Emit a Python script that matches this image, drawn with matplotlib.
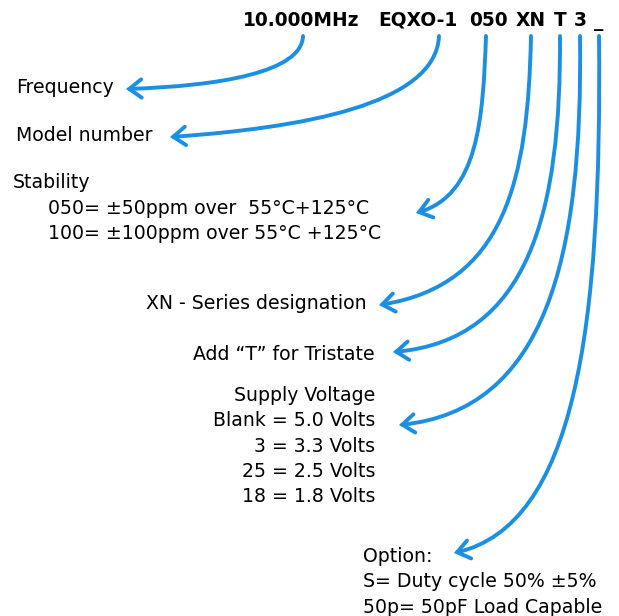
import matplotlib.pyplot as plt
from matplotlib.patches import FancyArrowPatch
from matplotlib.path import Path

plt.rcParams['font.family'] = ['DejaVu Sans']

# part number tokens at the top
code_tokens = ["10.000MHz", "EQXO-1", "050", "XN", "T", "3", "_"]
code_x = [301, 418, 488, 531, 560, 580, 599]

# descriptive text blocks
freq_lines = ["Frequency"]
model_lines = ["Model number"]
stab_title = ["Stability"]
stab_lines = ["050= \u00b150ppm over  55\u00b0C+125\u00b0C",
              "100= \u00b1100ppm over 55\u00b0C +125\u00b0C"]
series_lines = ["XN - Series designation"]
tristate_lines = ["Add \u201cT\u201d for Tristate"]
supply_lines = ["Supply Voltage", "Blank = 5.0 Volts", "3 = 3.3 Volts",
                "25 = 2.5 Volts", "18 = 1.8 Volts"]
option_lines = ["Option:", "S= Duty cycle 50% \u00b15%", "50p= 50pF Load Capable"]

blue = "#1a8fe3"
line_gap = 25.3

fig = plt.figure(figsize=(6.19, 6.16), dpi=100)
ax = fig.add_axes([0, 0, 1, 1])
ax.set_xlim(0, 619)
ax.set_ylim(616, 0)
ax.axis("off")

for tok, x in zip(code_tokens, code_x):
    ax.text(x, 26, tok, ha="center", va="baseline", fontsize=13.4,
            fontweight="bold", color="black")


def block(lines, x, y0, ha="left"):
    for i, s in enumerate(lines):
        ax.text(x, y0 + i * line_gap, s, ha=ha, va="baseline",
                fontsize=13.6, color="black")


block(freq_lines, 16, 93)
block(model_lines, 16, 141)
block(stab_title, 13, 188)
block(stab_lines, 48, 214)
block(series_lines, 367, 309, ha="right")
block(tristate_lines, 375, 360, ha="right")
block(supply_lines, 375, 401, ha="right")
block(option_lines, 363, 562)

# connector curves: start under the token, cubic controls, arrow tip
curves = [
    [(303, 36), (302, 72), (220, 86), (126, 89)],
    [(439, 36), (436, 105), (300, 128), (170, 137)],
    [(486, 36), (483, 120), (478, 195), (416, 213)],
    [(531, 36), (528, 180), (505, 285), (379, 305)],
    [(560, 36), (561, 210), (530, 340), (393, 352)],
    [(580, 36), (583, 260), (545, 410), (399, 425)],
    [(599, 36), (602, 330), (575, 525), (454, 553)],
]
for pts in curves:
    path = Path(pts, [Path.MOVETO, Path.CURVE4, Path.CURVE4, Path.CURVE4])
    arr = FancyArrowPatch(path=path,
                          arrowstyle="->,head_length=0.4,head_width=0.3",
                          mutation_scale=22, color=blue, lw=2.8,
                          capstyle="round", joinstyle="miter")
    ax.add_patch(arr)

fig.savefig("out.png", dpi=100)
plt.close(fig)
